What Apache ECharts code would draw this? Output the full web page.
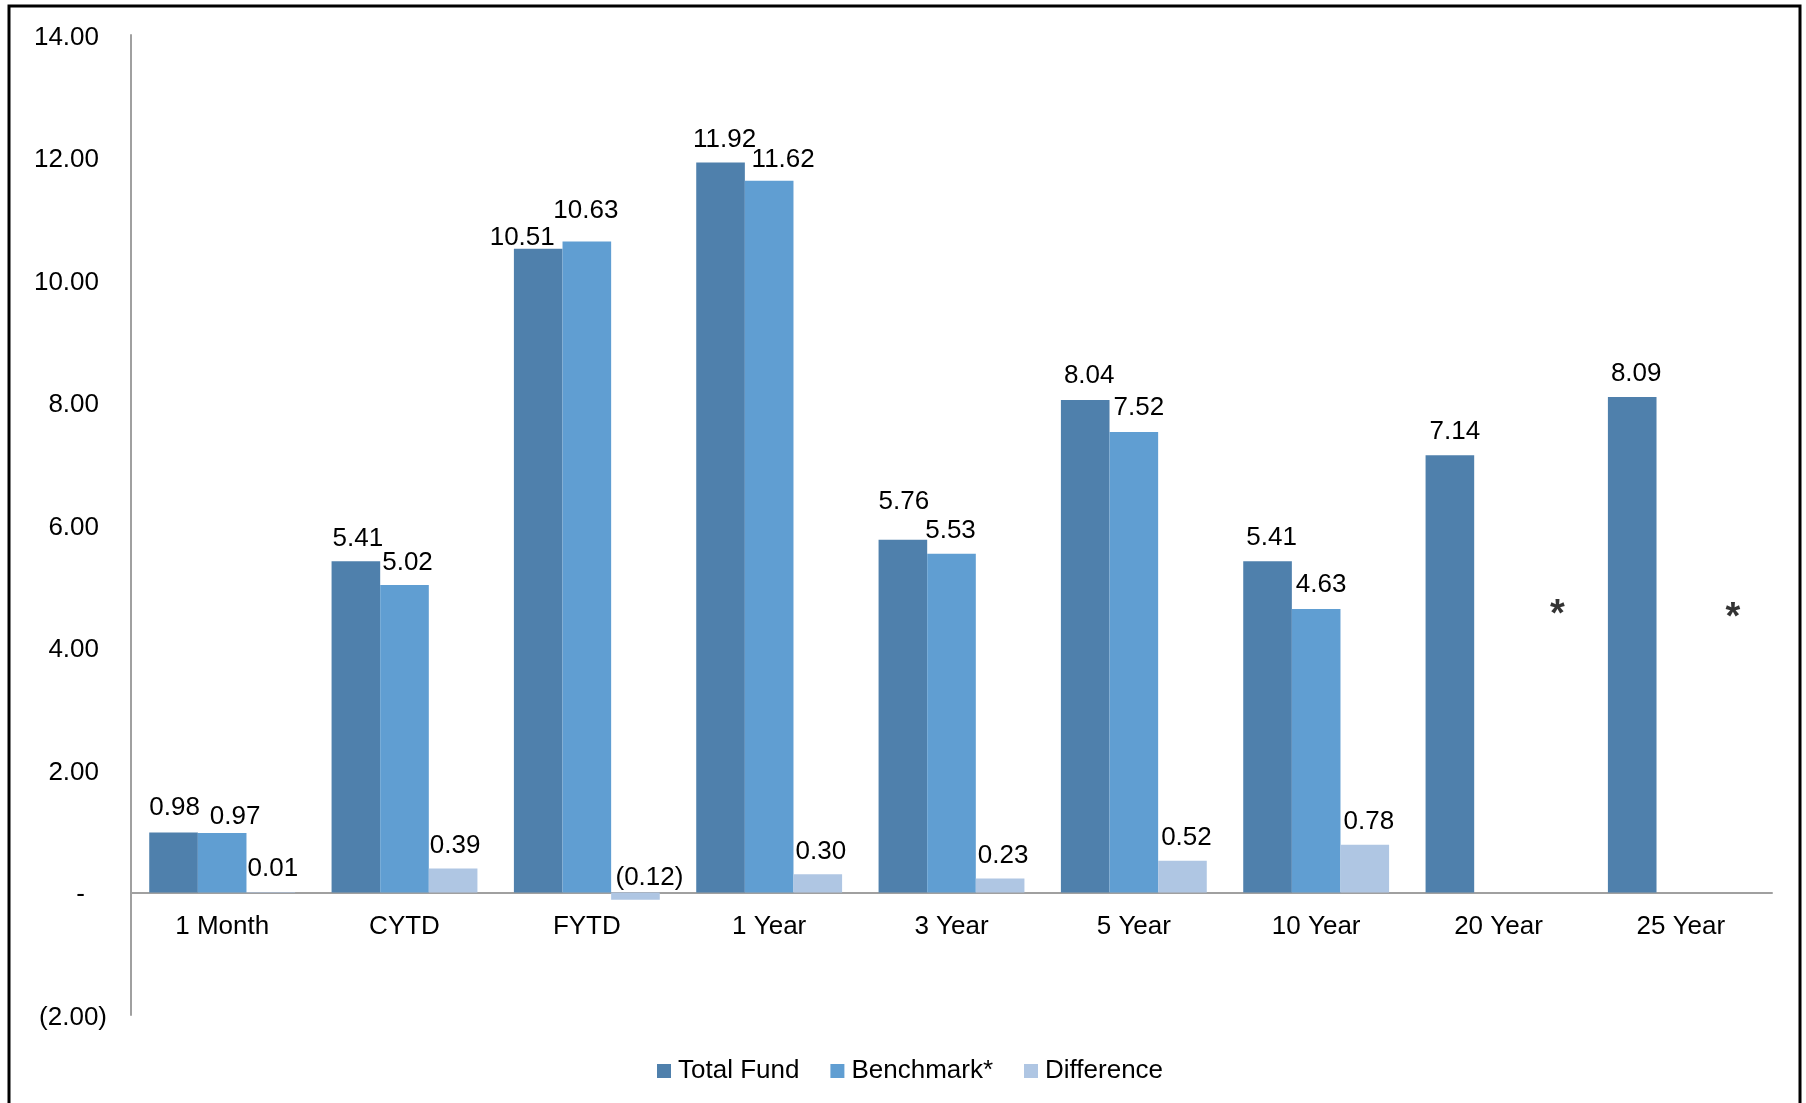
<!DOCTYPE html>
<html>
<head>
<meta charset="utf-8">
<script src="https://cdn.jsdelivr.net/npm/echarts@6/dist/echarts.min.js"></script>
<style>
  html, body { margin: 0; padding: 0; background: #ffffff; }
  #chart { width: 1806px; height: 1103px; }
</style>
</head>
<body>
<div id="chart"></div>
<script>
// Returns by period (%)
const categories = ['1 Month', 'CYTD', 'FYTD', '1 Year', '3 Year', '5 Year', '10 Year', '20 Year', '25 Year'];
const totalFund  = [0.98, 5.41, 10.51, 11.92, 5.76, 8.04, 5.41, 7.14, 8.09];
const benchmark  = [0.97, 5.02, 10.63, 11.62, 5.53, 7.52, 4.63, null, null];
const difference = [0.01, 0.39, -0.12, 0.30, 0.23, 0.52, 0.78, null, null];

// Value axis range and step
const yMin = -2;
const yMax = 14;
const yStep = 2;

// Periods with no benchmark get a '*' note, and the level it sits at
const noteCategories = ['20 Year', '25 Year'];
const noteLevels = [4.53, 4.48];

// Label nudges [dx, dy] so neighbouring value labels do not collide
const fundNudge  = [[1, -2], [2, 1], [-16, 12], [4, 0], [1, -15], [4, -1], [4, 0], [5, 0], [4, 0]];
const benchNudge = [[13, 7], [3, 1], [-1, -8], [14, 2], [-1, 0], [5, -1], [5, -1], null, null];
const diffNudge  = [[2, 0], [2, 0], [14, 8], [3, 1], [3, 0], [4, 0], [4, 0], null, null];
const noteNudge  = [[59, 0], [52, 0]];

const FONT = '"Liberation Sans", Arial, sans-serif';
const FS = 26;

// Plot area
const GRID = { left: 131, right: 34, top: 35, bottom: 88 };
const CHART_H = 1103;
const plotH = CHART_H - GRID.top - GRID.bottom;
// the category axis sits on the zero line
const zeroLift = (0 - yMin) / (yMax - yMin) * plotH;

function fmt(v) {
  if (v === 0) return '-';
  return v < 0 ? '(' + Math.abs(v).toFixed(2) + ')' : v.toFixed(2);
}

function barData(values, nudges) {
  return values.map(function (v, i) {
    if (v == null) return null;
    return { value: v, label: { offset: nudges[i] || [3, 0] } };
  });
}

const labelStyle = {
  show: true,
  position: 'top',
  distance: 10,
  color: '#000',
  fontSize: FS,
  fontFamily: FONT,
  formatter: function (p) { return fmt(p.value); }
};

const chart = echarts.init(document.getElementById('chart'), null, { renderer: 'canvas' });

chart.setOption({
  animation: false,
  backgroundColor: '#ffffff',
  textStyle: { fontFamily: FONT },
  graphic: [{
    type: 'rect',
    z: -1,
    shape: { x: 9, y: 6, width: 1791, height: 1200 },
    style: { fill: 'none', stroke: '#000', lineWidth: 3 }
  }],
  grid: Object.assign({ containLabel: false, outerBoundsMode: 'none' }, GRID),
  legend: {
    data: ['Total Fund', 'Benchmark*', 'Difference'],
    left: 652,
    top: 1053,
    icon: 'rect',
    itemWidth: 14,
    itemHeight: 14,
    itemGap: 31,
    textStyle: { fontSize: FS, color: '#000', fontFamily: FONT, padding: [0, 0, 0, 2] }
  },
  xAxis: {
    type: 'category',
    data: categories,
    offset: -zeroLift,
    axisLine: { onZero: false, lineStyle: { color: '#a0a0a0', width: 2 } },
    axisTick: { show: false },
    splitLine: { show: false },
    axisLabel: { margin: 21, fontSize: FS, color: '#000', fontFamily: FONT, interval: 0 }
  },
  yAxis: {
    type: 'value',
    min: yMin,
    max: yMax,
    interval: yStep,
    axisLine: { show: true, lineStyle: { color: '#a0a0a0', width: 2 } },
    axisTick: { show: false },
    splitLine: { show: false },
    axisLabel: {
      margin: 24,
      color: '#000',
      fontSize: FS,
      fontFamily: FONT,
      formatter: function (v) {
        if (v === 0) return '{z|-}';
        if (v < 0) return '{n|' + fmt(v) + '}';
        return '{p|' + fmt(v) + '}';
      },
      rich: {
        p: { fontSize: FS, color: '#000', fontFamily: FONT, padding: [5, 8, 0, 0] },
        z: { fontSize: FS, color: '#000', fontFamily: FONT, padding: [5, 22, 0, 0] },
        n: { fontSize: FS, color: '#000', fontFamily: FONT, padding: [5, 0, 0, 0] }
      }
    }
  },
  series: [
    {
      name: 'Total Fund',
      type: 'bar',
      barGap: '0%',
      barCategoryGap: '20%',
      itemStyle: { color: '#4f80ac' },
      label: labelStyle,
      data: barData(totalFund, fundNudge)
    },
    {
      name: 'Benchmark*',
      type: 'bar',
      barGap: '0%',
      barCategoryGap: '20%',
      itemStyle: { color: '#609ed2' },
      label: labelStyle,
      data: barData(benchmark, benchNudge)
    },
    {
      name: 'Difference',
      type: 'bar',
      barGap: '0%',
      barCategoryGap: '20%',
      itemStyle: { color: '#afc6e3' },
      label: labelStyle,
      data: barData(difference, diffNudge)
    },
    {
      name: 'note',
      type: 'scatter',
      symbolSize: 0,
      silent: true,
      label: {
        show: true,
        position: 'inside',
        formatter: '*',
        color: '#000',
        fontSize: 38,
        fontWeight: 'bold',
        fontFamily: FONT
      },
      data: noteCategories.map(function (c, i) {
        return { value: [c, noteLevels[i]], label: { offset: noteNudge[i] } };
      })
    }
  ]
});
</script>
</body>
</html>
